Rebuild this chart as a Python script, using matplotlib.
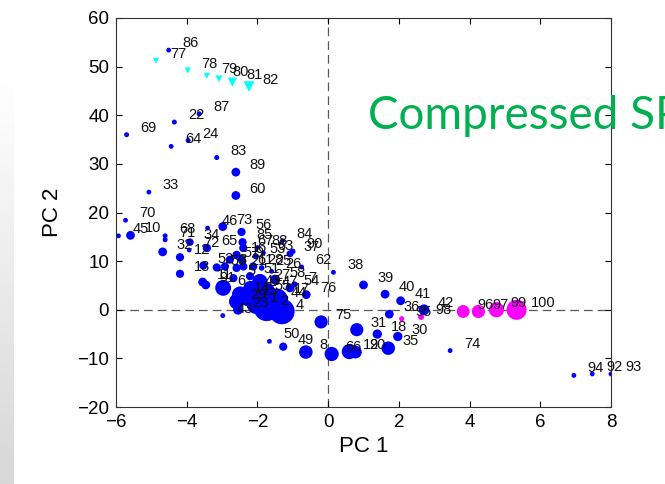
import numpy as np
import matplotlib
matplotlib.use('Agg')
import matplotlib.pyplot as plt

plt.rcParams['font.family'] = ['Liberation Sans', 'DejaVu Sans']

# blue samples: label, PC1, PC2, marker size
blue_lbl = [86, 87, 22, 69, 24, 64, 83, 89, 60, 33, 70, 45, 10, 68, 71, 46, 73, 56, 85, 34,
            72, 65, 32, 12, 13, 52, 59, 3, 57, 21, 9, 67, 16, 88, 53, 63, 84, 37, 90, 61,
            28, 25, 26, 62, 11, 91, 5, 51, 58, 27, 7, 54, 6, 48, 47, 55, 14, 76, 17, 15,
            44, 29, 1, 2, 23, 4, 43, 38, 39, 40, 41, 42, 36, 75, 31, 18, 30, 35, 50, 49,
            8, 66, 20, 19, 74, 94, 92, 93]
blue_x = [-4.51, -3.65, -4.35, -5.70, -3.96, -4.44, -3.15, -2.61, -2.61, -5.07, -5.73, -5.93, -5.59, -4.61, -4.61, -3.41, -2.98, -2.45, -2.42, -3.91,
          -3.93, -3.43, -4.68, -4.19, -4.19, -3.53, -3.15, -2.92, -2.78, -2.59, -2.45, -2.40, -2.59, -2.00, -2.05, -1.83, -1.29, -1.08, -1.00, -2.40,
          -2.12, -1.88, -1.60, -0.75, -3.55, -3.46, -2.68, -2.21, -1.50, -1.93, -0.95, -1.08, -2.97, -2.20, -1.70, -1.90, -2.49, -0.62, -1.35, -2.26,
          -1.45, -2.59, -2.04, -1.74, -2.55, -1.31, -2.98, 0.15, 1.00, 1.61, 2.05, 2.71, 1.73, -0.20, 0.81, 1.39, 1.97, 1.70, -1.66, -1.27,
          -0.63, 0.10, 0.77, 0.60, 3.45, 6.95, 7.47, 8.00]
blue_y = [53.4, 40.3, 38.6, 36.0, 34.8, 33.6, 31.3, 28.3, 23.5, 24.2, 18.4, 15.2, 15.3, 15.2, 14.4, 16.8, 17.1, 16.0, 13.9, 13.9,
          12.3, 12.7, 11.9, 10.8, 7.4, 9.1, 8.7, 8.9, 10.3, 8.6, 10.3, 12.7, 11.3, 12.8, 11.0, 11.7, 14.2, 11.5, 12.0, 8.9,
          8.9, 8.6, 7.9, 8.8, 5.7, 5.1, 6.5, 6.9, 6.2, 5.8, 5.2, 4.5, 4.5, 4.5, 4.2, 3.5, 3.1, 3.1, 2.9, 2.4,
          2.1, 1.7, 1.0, 0.3, 0.0, -0.35, -1.2, 7.7, 5.1, 3.2, 1.85, 0.0, -0.9, -2.5, -4.1, -5.0, -5.5, -7.9, -6.5, -7.6,
          -8.7, -9.1, -8.7, -8.6, -8.4, -13.5, -13.2, -13.2]
blue_s = [12, 13, 13, 13, 13, 12, 13, 40, 40, 12, 12, 12, 40, 13, 13, 12, 40, 35, 35, 30,
          12, 35, 40, 35, 35, 35, 35, 35, 35, 35, 30, 35, 35, 12, 20, 12, 12, 25, 16, 35,
          35, 16, 12, 12, 40, 40, 35, 35, 50, 120, 20, 40, 130, 100, 80, 100, 140, 40, 40, 140,
          250, 120, 170, 340, 50, 340, 12, 12, 40, 40, 40, 60, 40, 90, 90, 45, 45, 95, 12, 35,
          95, 105, 85, 120, 12, 12, 12, 12]

# cyan samples (triangles)
cyan_lbl = [77, 78, 79, 80, 81, 82]
cyan_x = [-4.87, -3.97, -3.43, -3.09, -2.71, -2.24]
cyan_y = [51.2, 49.2, 48.1, 47.5, 46.8, 45.9]
cyan_s = [18, 20, 20, 24, 45, 60]

# magenta samples
mag_lbl = [95, 98, 96, 97, 99, 100]
mag_x = [2.08, 2.63, 3.82, 4.25, 4.76, 5.33]
mag_y = [-1.85, -1.5, -0.35, -0.35, 0.0, 0.0]
mag_s = [14, 18, 85, 90, 120, 210]

fig = plt.figure(figsize=(6.65, 4.84), dpi=100)

# grey gradient strip at the left edge
strip = fig.add_axes([0, 0, 14 / 665, 411 / 484])
grad = np.linspace(1.0, 0.84, 256).reshape(-1, 1)
strip.imshow(grad, cmap='gray', vmin=0, vmax=1, aspect='auto')
strip.axis('off')

ax = fig.add_axes([116 / 665, 1 - 407 / 484, 495 / 665, 389 / 484])

ax.axhline(0, ls=(0, (7, 4)), color='0.35', lw=0.9, zorder=1)
ax.axvline(0, ls=(0, (7, 4)), color='0.35', lw=0.9, zorder=1)

ax.scatter(blue_x, blue_y, s=blue_s, c='#0000ff', edgecolors='none', zorder=2)
ax.scatter(mag_x, mag_y, s=mag_s, c='#ff00ff', edgecolors='none', zorder=2)
ax.scatter(cyan_x, cyan_y, s=cyan_s, c='#00ffff', marker='v', edgecolors='none', zorder=2)

for lbls, xs, ys in [(blue_lbl, blue_x, blue_y), (cyan_lbl, cyan_x, cyan_y), (mag_lbl, mag_x, mag_y)]:
    for l, x, y in zip(lbls, xs, ys):
        ax.annotate(str(l), (x, y), xytext=(10, 5), textcoords='offset points',
                    fontsize=10.5, ha='left', va='center', color='#111111', zorder=3)

ax.set_xlim(-6, 8)
ax.set_ylim(-20, 60)
ax.set_xticks(range(-6, 9, 2))
ax.set_yticks(range(-20, 61, 10))
ax.tick_params(direction='in', top=True, right=True, length=4, width=0.8,
               labelsize=13.5, pad=5)
for sp in ax.spines.values():
    sp.set_linewidth(0.8)
    sp.set_color('#333333')
ax.set_xlabel('PC 1', fontsize=16, labelpad=4)
ax.set_ylabel('PC 2', fontsize=16, labelpad=10)

fig.text(368 / 665, 1 - 129 / 484, 'Compressed SP', family='Lato', fontsize=33,
         color='#00b050', ha='left', va='baseline')

fig.savefig('out.png', dpi=100)
